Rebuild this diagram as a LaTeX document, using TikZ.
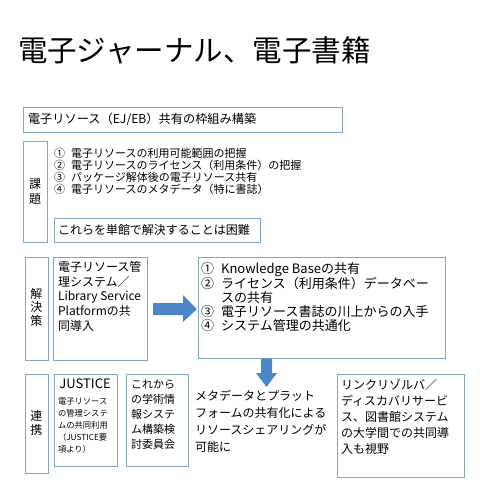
\documentclass[tikz,border=0pt]{standalone}
\usepackage{fontspec}
\setmainfont{Noto Sans CJK JP}
\definecolor{boxline}{RGB}{128,168,198}
\definecolor{arrowblue}{RGB}{76,134,198}
\newcommand{\fs}[2]{\fontsize{#1}{#2}\selectfont}
\newcommand{\itm}[2]{\makebox[1.55em][l]{#1}#2}
\begin{document}
\begin{tikzpicture}[x=1pt,y=-1pt,
  box/.style={draw=boxline,line width=0.8pt},
  txt/.style={inner sep=0pt,outer sep=0pt,align=left,text=black},
  vlabel/.style={inner sep=0pt,align=center,text=black},
  arrowfill/.style={fill=arrowblue,draw=none}]
\path[use as bounding box] (0,0) rectangle (480,480);
\fill[white] (0,0) rectangle (480,480);
% title
\node[txt,anchor=west,font=\fs{29.5}{34}] (title) at (18,50) {電子ジャーナル、電子書籍};
% top box
\draw[box] (23,107) rectangle (342,132);
\node[txt,anchor=west,font=\fs{12.2}{15}] (frame) at (28,119.5) {電子リソース（EJ/EB）共有の枠組み構築};
% kadai
\draw[box] (23,141) rectangle (47,242);
\node[vlabel,font=\fs{12}{15}] (kadai) at (35,192) {課\\題};
\node[txt,anchor=north west,font=\fs{11}{11.9}] (issues) at (54,148.5) {%
\itm{①}{電子リソースの利用可能範囲の把握}\\
\itm{②}{電子リソースのライセンス（利用条件）の把握}\\
\itm{③}{パッケージ解体後の電子リソース共有}\\
\itm{④}{電子リソースのメタデータ（特に書誌）}};
\draw[box] (54,218) rectangle (260,242);
\node[txt,anchor=west,font=\fs{12}{15}] (hard) at (58,230) {これらを単館で解決することは困難};
% kaiketsu
\draw[box] (25,257) rectangle (48,360);
\node[vlabel,font=\fs{12}{13.5}] (kaiketsu) at (36.5,307) {解\\決\\策};
\draw[box] (53,257) rectangle (147,360);
\node[txt,anchor=north west,font=\fs{12}{14.6}] (lsp) at (58,261.5) {電子リソース管\\理システム／\\Library Service\\Platformの共\\同導入};
% right arrow
\fill[arrowfill] (153,303) -- (183,303) -- (183,295) -- (197,309) -- (183,322) -- (183,315) -- (153,315) -- cycle;
\draw[box] (198,257) rectangle (445,358);
\node[txt,anchor=north west,font=\fs{13}{14}] (sol) at (201,262) {%
\itm{①}{Knowledge Baseの共有}\\
\itm{②}{ライセンス（利用条件）データベー}\\
\itm{}{スの共有}\\
\itm{③}{電子リソース書誌の川上からの入手}\\
\itm{④}{システム管理の共通化}};
% down arrow
\fill[arrowfill] (261,358.5) -- (272,358.5) -- (272,373) -- (277,373) -- (266.5,387) -- (256,373) -- (261,373) -- cycle;
% renkei
\draw[box] (25,374) rectangle (48,473);
\node[vlabel,font=\fs{12}{14}] (renkei) at (36.5,423) {連\\携};
\draw[box] (54,374) rectangle (117,466);
\node[txt,anchor=north west,font=\fs{13}{15}] (justice) at (59.5,379) {JUSTICE};
\node[txt,anchor=north west,font=\fs{8.3}{12}] (justicetxt) at (58,397.5) {電子リソース\\の管理システ\\ムの共同利用\\（JUSTICE要\\項より）};
\draw[box] (126,374) rectangle (188,466);
\node[txt,anchor=north west,font=\fs{11}{15}] (iinkai) at (131,380) {これから\\の学術情\\報システ\\ム構築検\\討委員会};
\node[txt,anchor=north west,font=\fs{12}{17}] (share) at (195,390.5) {メタデータとプラット\\フォームの共有化による\\リソースシェアリングが\\可能に};
\draw[box] (337,374) rectangle (464,477);
\node[txt,anchor=north west,font=\fs{12}{16}] (link) at (341,379.5) {リンクリゾルバ／\\ディスカバリサービ\\ス、図書館システム\\の大学間での共同導\\入も視野};
\end{tikzpicture}
\end{document}
